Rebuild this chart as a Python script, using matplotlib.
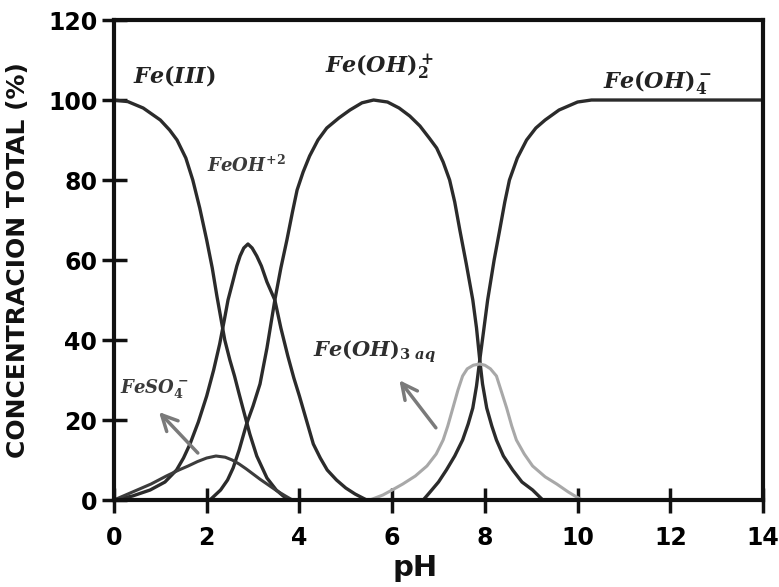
import matplotlib
matplotlib.use("Agg")
import matplotlib.pyplot as plt

# values (pH, % of total)
fe3_ph = [0, 0.3, 0.63, 1.0, 1.2, 1.36, 1.55, 1.7, 1.85, 2.0, 2.12, 2.22, 2.39, 2.5, 2.6, 2.7,
          2.78, 2.93, 3.08, 3.2, 3.3, 3.5, 3.65, 3.8]
fe3_pct = [100, 99.6, 98, 95, 92.5, 90, 85.5, 80, 73, 65, 58, 51, 40, 35, 31, 26.5,
           23, 16.5, 11, 8, 5.5, 2.5, 1, 0]

feoh_ph = [0, 0.4, 0.78, 1.1, 1.35, 1.5, 1.64, 1.82, 2.0, 2.15, 2.28, 2.38, 2.46, 2.55, 2.65,
           2.72, 2.8, 2.89, 2.98, 3.08, 3.18, 3.3, 3.47, 3.6, 3.75, 3.88, 4.0, 4.15, 4.3,
           4.45, 4.6, 4.8, 5.0, 5.2, 5.45]
feoh_pct = [0, 1, 2.5, 4.5, 7.5, 10.5, 14, 19.5, 26, 32.5, 39, 45, 50, 54, 58.5,
            61, 63, 64, 63, 61, 58.5, 54.5, 50, 43, 36, 30.5, 26, 20, 14,
            10.5, 7.5, 5, 3, 1.5, 0]

feoh2_ph = [2.07, 2.3, 2.45, 2.57, 2.7, 2.86, 3.0, 3.15, 3.3, 3.47, 3.6, 3.73, 3.85, 3.95,
            4.08, 4.22, 4.4, 4.59, 4.85, 5.09, 5.35, 5.6, 5.9, 6.15, 6.38, 6.6, 6.8, 6.96,
            7.1, 7.24, 7.35, 7.46, 7.6, 7.74, 7.82, 7.89, 7.95, 8.04, 8.15, 8.25, 8.4,
            8.6, 8.8, 9.03, 9.25]
feoh2_pct = [0, 2.5, 5, 8, 12.5, 19, 23.5, 29, 38, 50, 58, 65, 72, 77.5,
             82, 86, 90, 93, 95.5, 97.5, 99.3, 100, 99.5, 98, 96, 93.5, 90.5, 88,
             84.5, 80, 74.5, 67.5, 59, 50, 43, 35, 29, 23, 18.5, 15, 11,
             7.5, 4.5, 2.5, 0]

feoh4_ph = [6.67, 6.8, 7.0, 7.17, 7.35, 7.52, 7.64, 7.74, 7.82, 7.89, 7.97, 8.06, 8.2, 8.32,
            8.43, 8.53, 8.7, 8.9, 9.1, 9.3, 9.6, 10.0, 10.3, 14]
feoh4_pct = [0, 1.75, 4.5, 7.5, 11, 15, 19, 23, 28.5, 35, 42, 50, 60, 67.5,
             74.5, 80, 85.5, 90, 93, 95, 97.5, 99.5, 100, 100]

feoh3_ph = [5.52, 5.8, 6.0, 6.23, 6.5, 6.75, 6.95, 7.1, 7.2, 7.31, 7.42, 7.52, 7.62, 7.75,
            7.89, 8.0, 8.12, 8.25, 8.36, 8.47, 8.58, 8.68, 8.85, 9.03, 9.3, 9.55, 9.8,
            9.98, 10.1]
feoh3_pct = [0, 1.25, 2.5, 4, 6, 8.5, 11.5, 15, 18.5, 23, 27.5, 31, 32.8, 33.7,
             34, 33.7, 32.8, 31, 27, 23, 18.5, 15, 11.5, 8.5, 5.8, 4, 2,
             0.75, 0]

feso4_ph = [0, 0.4, 0.8, 1.13, 1.4, 1.6, 1.8, 2.0, 2.2, 2.4, 2.55, 2.7, 2.85, 3.0, 3.15,
            3.3, 3.5, 3.7, 3.85]
feso4_pct = [0, 2, 4, 6, 7.5, 8.5, 9.6, 10.5, 11, 10.7, 10, 9, 7.8, 6.5, 5.2,
             4, 2.4, 1, 0]

plt.rcParams["mathtext.fontset"] = "custom"
plt.rcParams["mathtext.it"] = "DejaVu Serif:italic:bold"
plt.rcParams["mathtext.rm"] = "DejaVu Serif:bold"
plt.rcParams["mathtext.bf"] = "DejaVu Serif:italic:bold"
plt.rcParams["font.family"] = ["DejaVu Sans"]

fig = plt.figure(figsize=(7.79, 5.87), dpi=100)
ax = fig.add_axes([0.1463, 0.1482, 0.8332, 0.8177])

dark = "#2b2b2b"
ax.plot(fe3_ph, fe3_pct, color=dark, lw=2.4)
ax.plot(feoh_ph, feoh_pct, color=dark, lw=2.4)
ax.plot(feoh2_ph, feoh2_pct, color=dark, lw=2.4)
ax.plot(feoh4_ph, feoh4_pct, color=dark, lw=2.4)
ax.plot(feso4_ph, feso4_pct, color="#3c3c3c", lw=2.2)
ax.plot(feoh3_ph, feoh3_pct, color="#a8a8a8", lw=2.2)

ax.text(0.41, 104.5, r"$Fe(III)$", fontsize=16, color="#222222")
ax.text(4.55, 106.75, r"$Fe(OH)_2^+$", fontsize=16, color="#222222")
ax.text(10.54, 103, r"$Fe(OH)_4^-$", fontsize=16, color="#222222")
ax.text(2.0, 82, r"$FeOH^{+2}$", fontsize=13, color="#3a3a3a")
ax.text(0.13, 26.75, r"$FeSO_4^-$", fontsize=13, color="#3a3a3a")
ax.text(4.29, 35.75, r"$Fe(OH)_{3\ aq}$", fontsize=15, color="#2e2e2e")

arrow = dict(arrowstyle="->", color="#7a7a7a", lw=2.5, mutation_scale=28)
ax.annotate("", xy=(0.93, 22.5), xytext=(1.85, 11.25), arrowprops=arrow)
ax.annotate("", xy=(6.12, 30.5), xytext=(6.98, 17.5), arrowprops=arrow)

ax.set_xlim(0, 14)
ax.set_ylim(0, 120)
ax.set_xticks(range(0, 15, 2))
ax.set_yticks(range(0, 121, 20))
ax.tick_params(direction="inout", length=18, width=2.5, labelsize=17, color="#111111")
ax.tick_params(axis="x", pad=10)
ax.tick_params(axis="y", pad=3)
for lab in ax.get_xticklabels() + ax.get_yticklabels():
    lab.set_fontweight("bold")
for sp in ax.spines.values():
    sp.set_linewidth(3)
    sp.set_color("#111111")

ax.set_xlabel("pH", fontsize=21, fontweight="bold", color="#111111")
ax.xaxis.set_label_coords(0.464, -0.112)
ax.set_ylabel("CONCENTRACION TOTAL (%)", fontsize=18, fontweight="bold", color="#111111")
ax.yaxis.set_label_coords(-0.13, 0.5)

fig.savefig("out.png", dpi=100)
